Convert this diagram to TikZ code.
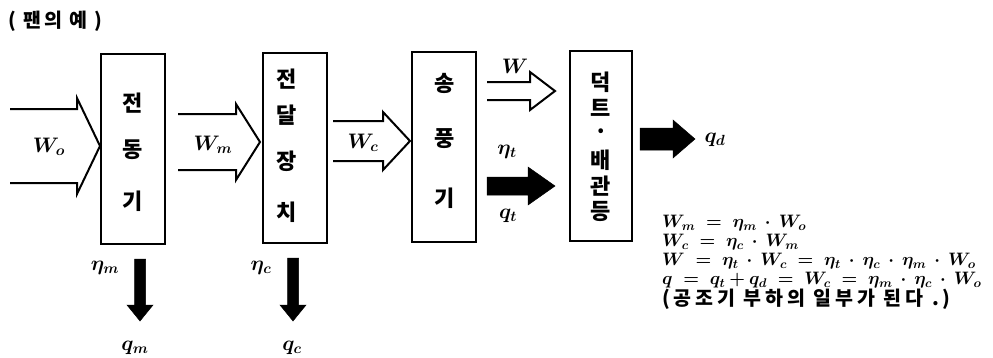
\RequirePackage{fix-cm}
\documentclass[tikz,border=0pt]{standalone}
\usepackage{fontspec}
\usepackage{amsmath,bm}
\newfontfamily\kr{Noto Sans CJK KR}
\tikzset{
  box/.style={draw, line width=2pt, minimum width=64pt, minimum height=190pt, inner sep=0pt},
  arrline/.style={draw, line width=2pt, line join=miter},
  arrfill/.style={fill=black, draw=black, line width=0.5pt},
  krtxt/.style={font=\kr\bfseries\fontsize{22}{22}\selectfont, inner sep=0pt},
  lbl/.style={font=\fontsize{21}{21}\selectfont, inner sep=0pt},
  eqn/.style={font=\fontsize{18}{19}\selectfont, inner sep=0pt, align=left}
}
\newcommand\myeq{\mathrel{\mkern5mu=\mkern5mu}}
\newcommand\mydot{\mathbin{\mkern3.5mu\cdot\mkern3.5mu}}
% hollow arrow: x0, head start, tip, ymid, shaft half, head half
\newcommand\myhollow[6]{%
  \draw[arrline] (#1,#4-#5) -- (#2,#4-#5) -- (#2,#4-#6) -- (#3,#4) -- (#2,#4+#6) -- (#2,#4+#5) -- (#1,#4+#5);}
\newcommand\myfilled[6]{%
  \path[arrfill] (#1,#4-#5) -- (#2,#4-#5) -- (#2,#4-#6) -- (#3,#4) -- (#2,#4+#6) -- (#2,#4+#5) -- (#1,#4+#5) -- cycle;}
% downward filled arrow: xmid, y0, head start, tip, shaft half, head half
\newcommand\mydown[6]{%
  \path[arrfill] (#1-#5,#2) -- (#1-#5,#3) -- (#1-#6,#3) -- (#1,#4) -- (#1+#6,#3) -- (#1+#5,#3) -- (#1+#5,#2) -- cycle;}
\begin{document}
\begin{tikzpicture}[x=1pt,y=-1pt]
\useasboundingbox (0,0) rectangle (993,357);
% title
\node[font=\kr\bfseries\fontsize{19.5}{19.5}\selectfont\addfontfeature{LetterSpace=15}, anchor=west, inner sep=0pt] (title) at (8,21) {( 팬의 예 )};
% boxes
\node[box] (b1) at (132.5,149) {};
\node[box] (b2) at (294.5,148) {};
\node[box] (b3) at (444,147) {};
\node[box, minimum width=62pt] (b4) at (601,146) {};
% box texts
\node[krtxt] (t11) at (133,103) {전};
\node[krtxt] (t12) at (133,150) {동};
\node[krtxt] (t13) at (133,201) {기};
\node[krtxt] (t21) at (287,79) {전};
\node[krtxt] (t22) at (287,115) {달};
\node[krtxt] (t23) at (287,161) {장};
\node[krtxt] (t24) at (287,212) {치};
\node[krtxt] (t31) at (445,83) {송};
\node[krtxt] (t32) at (445,139) {풍};
\node[krtxt] (t33) at (445,198) {기};
\node[krtxt] (t41) at (601,82) {덕};
\node[krtxt] (t42) at (601,108) {트};
\node[krtxt] (t43) at (601,134) {·};
\node[krtxt] (t44) at (601,160) {배};
\node[krtxt] (t45) at (601,186) {관};
\node[krtxt] (t46) at (601,211) {등};
% hollow arrows
\myhollow{10}{77}{100}{146}{37}{48}
\myhollow{178}{236}{260}{142}{28}{38}
\myhollow{333}{383}{410}{141}{20}{29}
\myhollow{487}{530}{555}{91}{9}{19}
% filled arrows
\myfilled{487}{528}{555}{186}{9}{19}
\myfilled{640}{673}{695}{139}{11}{19}
\mydown{140}{259}{305}{321}{5.5}{13}
\mydown{293}{258}{305}{321}{5.5}{13}
% labels
\node[lbl] (lwo) at (49,147) {$\bm{W_o}$};
\node[lbl] (lwm) at (213,145) {$\bm{W_m}$};
\node[lbl] (lwc) at (363,143) {$\bm{W_c}$};
\node[lbl] (lw) at (515,66) {$\bm{W}$};
\node[lbl] (let) at (507,152) {$\bm{\eta_t}$};
\node[lbl] (lqt) at (508,216) {$\bm{q_t}$};
\node[lbl] (lqd) at (715,140) {$\bm{q_d}$};
\node[lbl] (lem) at (105,268) {$\bm{\eta_m}$};
\node[lbl] (lec) at (261,268) {$\bm{\eta_c}$};
\node[lbl] (lqm) at (135,348) {$\bm{q_m}$};
\node[lbl] (lqc) at (292,348) {$\bm{q_c}$};
% equations
\node[eqn, anchor=north west] (eqs) at (662,215) {%
$\bm{W_m \myeq \eta_m \mydot W_o}$\\
$\bm{W_c \myeq \eta_c \mydot W_m}$\\
$\bm{W \myeq \eta_t \mydot W_c \myeq \eta_t \mydot \eta_c \mydot \eta_m \mydot W_o}$\\
$\bm{q \myeq q_t + q_d \myeq W_c \myeq \eta_m \mydot \eta_c \mydot W_o}$\\
{\kr\bfseries\fontsize{19.5}{19.5}\selectfont\addfontfeature{LetterSpace=20}(공조기 부하의 일부가 된다 .)}};
\end{tikzpicture}
\end{document}
